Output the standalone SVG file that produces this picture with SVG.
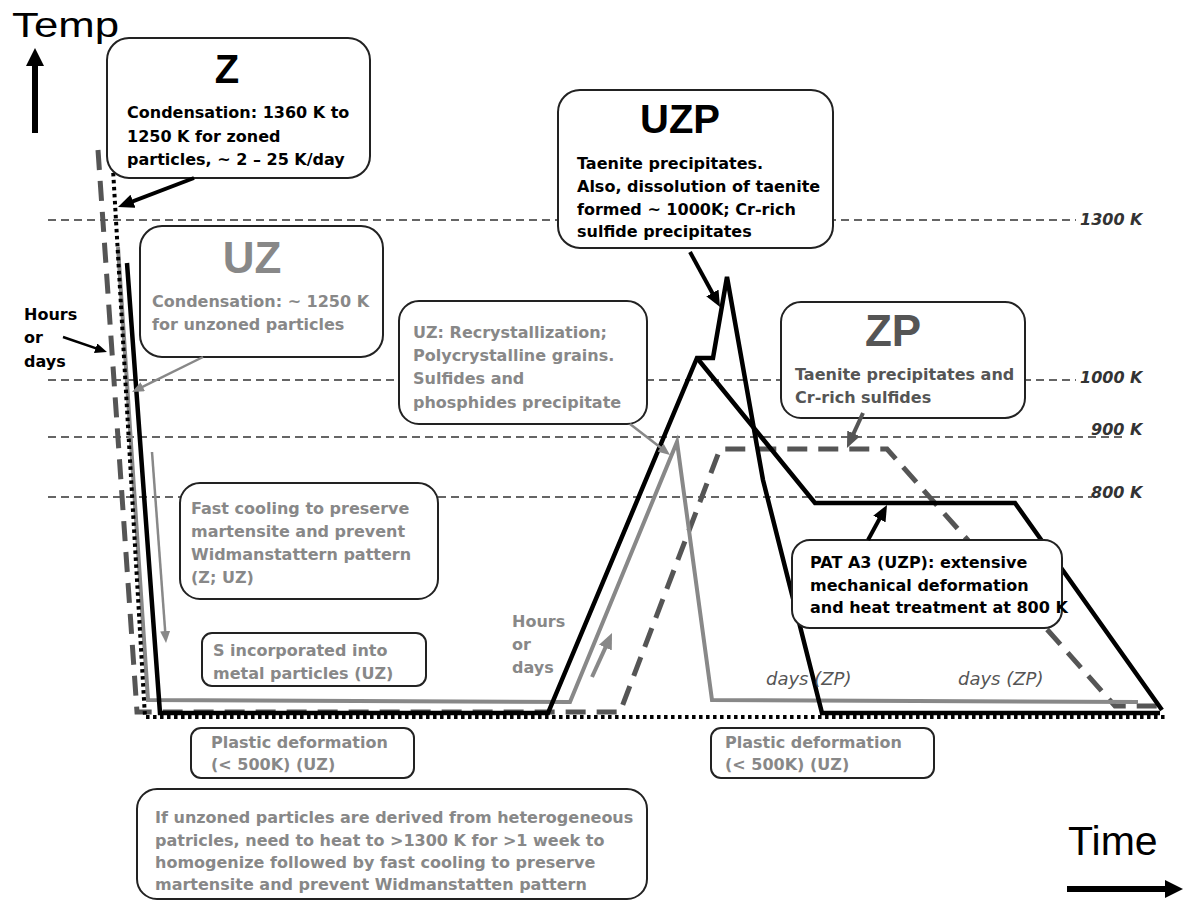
<svg xmlns="http://www.w3.org/2000/svg" width="1183" height="903" viewBox="0 0 1183 903">
<style>
.box{fill:#fff;stroke:#222;stroke-width:2}
.t{font-family:"DejaVu Sans","Liberation Sans",sans-serif;font-weight:bold;font-size:16px}
.ttl{font-family:"Liberation Sans",Arial,sans-serif;font-weight:bold;text-anchor:middle}
.blk{fill:#000}.gry{fill:#888}.dg{fill:#555}
.lvl{stroke:#333;stroke-width:1.6;stroke-dasharray:8 5;fill:none}
.lab{font-family:"DejaVu Sans",sans-serif;font-style:italic;font-weight:bold;font-size:16px;fill:#333}
.days{font-family:"DejaVu Sans",sans-serif;font-style:italic;font-size:18px;fill:#555}
.cv{fill:none;stroke-linejoin:miter}
</style>
<defs>
<marker id="ab" viewBox="0 0 16 14" markerWidth="16" markerHeight="14" refX="8" refY="7" orient="auto" markerUnits="userSpaceOnUse"><path d="M0,0 L16,7 L0,14 z" fill="#000"/></marker>
<marker id="abs" viewBox="0 0 12 10" markerWidth="12" markerHeight="10" refX="6" refY="5" orient="auto" markerUnits="userSpaceOnUse"><path d="M0,0 L12,5 L0,10 z" fill="#000"/></marker>
<marker id="ag" viewBox="0 0 12 10" markerWidth="12" markerHeight="10" refX="6" refY="5" orient="auto" markerUnits="userSpaceOnUse"><path d="M0,0 L12,5 L0,10 z" fill="#888"/></marker>
<marker id="agb" viewBox="0 0 16 14" markerWidth="16" markerHeight="14" refX="8" refY="7" orient="auto" markerUnits="userSpaceOnUse"><path d="M0,0 L16,7 L0,14 z" fill="#888"/></marker>
<marker id="ad" viewBox="0 0 16 14" markerWidth="16" markerHeight="14" refX="8" refY="7" orient="auto" markerUnits="userSpaceOnUse"><path d="M0,0 L16,7 L0,14 z" fill="#555"/></marker>
</defs>
<rect width="1183" height="903" fill="#fff"/>

<g id="axes">
<text x="12" y="37" font-family="Liberation Sans, Arial, sans-serif" font-size="35" textLength="107" lengthAdjust="spacingAndGlyphs" fill="#000">Temp</text>
<line x1="35" y1="133" x2="35" y2="62" stroke="#000" stroke-width="6"/>
<polygon points="26,66 35,48 44,66" fill="#000"/>
<text x="1068" y="855" font-family="Liberation Sans, Arial, sans-serif" font-size="41" fill="#000">Time</text>
<line x1="1067" y1="889" x2="1168" y2="889" stroke="#000" stroke-width="6"/>
<polygon points="1165,880 1183,889 1165,898" fill="#000"/>
</g>

<g id="levels">
<line class="lvl" x1="48" y1="220" x2="1076" y2="220"/>
<line class="lvl" x1="48" y1="380" x2="1076" y2="380"/>
<line class="lvl" x1="48" y1="437" x2="1122" y2="437"/>
<line class="lvl" x1="48" y1="497" x2="1092" y2="497"/>
<text class="lab" x="1080" y="225">1300 K</text>
<text class="lab" x="1080" y="383">1000 K</text>
<text class="lab" x="1091" y="435">900 K</text>
<text class="lab" x="1091" y="498">800 K</text>
</g>

<g id="curves">
<path class="cv" d="M98,150 L137,712 L620,712 L720,449 L887,449 L1115,706 L1160,706" stroke="#555" stroke-width="5" stroke-dasharray="20 11"/>
<path class="cv" d="M118,247 L148,700 L570,702 L677,442 L712,700 L1138,702" stroke="#888" stroke-width="4"/>
<path class="cv" d="M127,263 L160,713 L548,713 L697,358 L713,358 L727,277 L763,480 L822,713 L1160,713" stroke="#000" stroke-width="4.5"/>
<path class="cv" d="M697,358 L815,503 L1015,503 L1162,710" stroke="#000" stroke-width="4.5"/>
<path class="cv" d="M112,152 L145,717 L1165,717" stroke="#000" stroke-width="4" stroke-dasharray="3.5 3.5"/>
</g>

<g id="node-z">
<rect class="box" x="107" y="38" width="263" height="140" rx="22"/>
<text class="ttl blk" x="227" y="83" font-size="40">Z</text>
<text class="t blk" x="127" y="118">Condensation: 1360 K to</text>
<text class="t blk" x="127" y="142">1250 K for zoned</text>
<text class="t blk" x="127" y="165">particles, ~ 2 – 25 K/day</text>
</g>

<g id="node-uz">
<rect class="box" x="140" y="226" width="243" height="131" rx="22"/>
<text class="ttl gry" x="252" y="273" font-size="44">UZ</text>
<text class="t gry" x="152" y="307">Condensation: ~ 1250 K</text>
<text class="t gry" x="152" y="330">for unzoned particles</text>
</g>

<g id="node-hours-left">
<text class="t blk" x="24" y="320">Hours</text>
<text class="t blk" x="24" y="343">or</text>
<text class="t blk" x="24" y="367">days</text>
</g>

<g id="node-uzp">
<rect class="box" x="558" y="90" width="275" height="158" rx="22"/>
<text class="ttl blk" x="680" y="133" font-size="40">UZP</text>
<text class="t blk" x="577" y="169">Taenite precipitates.</text>
<text class="t blk" x="577" y="192">Also, dissolution of taenite</text>
<text class="t blk" x="577" y="215">formed ~ 1000K; Cr-rich</text>
<text class="t blk" x="577" y="237">sulfide precipitates</text>
</g>

<g id="node-recryst">
<rect class="box" x="399" y="301" width="248" height="123" rx="20"/>
<text class="t gry" x="413" y="338">UZ: Recrystallization;</text>
<text class="t gry" x="413" y="361">Polycrystalline grains.</text>
<text class="t gry" x="413" y="384">Sulfides and</text>
<text class="t gry" x="413" y="408">phosphides precipitate</text>
</g>

<g id="node-zp">
<rect class="box" x="781" y="302" width="244" height="116" rx="20"/>
<text class="ttl dg" x="893" y="346" font-size="44">ZP</text>
<text class="t dg" x="795" y="380">Taenite precipitates and</text>
<text class="t dg" x="795" y="403">Cr-rich sulfides</text>
</g>

<g id="node-fastcool">
<rect class="box" x="180" y="483" width="258" height="116" rx="20"/>
<text class="t gry" x="191" y="514">Fast cooling to preserve</text>
<text class="t gry" x="191" y="537">martensite and prevent</text>
<text class="t gry" x="191" y="560">Widmanstattern pattern</text>
<text class="t gry" x="191" y="583">(Z; UZ)</text>
</g>

<g id="node-s">
<rect class="box" x="202" y="633" width="224" height="53" rx="10"/>
<text class="t gry" x="213" y="656">S incorporated into</text>
<text class="t gry" x="213" y="679">metal particles (UZ)</text>
</g>

<g id="node-hours-mid">
<text class="t gry" x="512" y="627">Hours</text>
<text class="t gry" x="512" y="650">or</text>
<text class="t gry" x="512" y="673">days</text>
</g>

<g id="node-pat">
<rect class="box" x="792" y="540" width="270" height="88" rx="18"/>
<text class="t blk" x="810" y="568">PAT A3 (UZP): extensive</text>
<text class="t blk" x="810" y="591">mechanical deformation</text>
<text class="t blk" x="810" y="613">and heat treatment at 800 K</text>
</g>

<g id="node-days">
<text class="days" x="766" y="685">days (ZP)</text>
<text class="days" x="958" y="685">days (ZP)</text>
</g>

<g id="node-plastic1">
<rect class="box" x="191" y="728" width="223" height="50" rx="10"/>
<text class="t gry" x="211" y="748">Plastic deformation</text>
<text class="t gry" x="211" y="770">(&lt; 500K) (UZ)</text>
</g>

<g id="node-plastic2">
<rect class="box" x="711" y="728" width="223" height="50" rx="10"/>
<text class="t gry" x="725" y="748">Plastic deformation</text>
<text class="t gry" x="725" y="770">(&lt; 500K) (UZ)</text>
</g>

<g id="node-bottom">
<rect class="box" x="137" y="789" width="510" height="110" rx="20"/>
<text class="t gry" x="155" y="823">If unzoned particles are derived from heterogeneous</text>
<text class="t gry" x="155" y="846">patricles, need to heat to &gt;1300 K for &gt;1 week to</text>
<text class="t gry" x="155" y="868">homogenize followed by fast cooling to preserve</text>
<text class="t gry" x="155" y="890">martensite and prevent Widmanstatten pattern</text>
</g>

<g id="connectors" fill="none">
<line x1="194" y1="178" x2="125.5" y2="204.1" stroke="#000" stroke-width="4" marker-end="url(#ab)"/>
<line x1="690" y1="252" x2="716.2" y2="300" stroke="#000" stroke-width="4" marker-end="url(#ab)"/>
<line x1="868" y1="540" x2="883.2" y2="512" stroke="#000" stroke-width="4" marker-end="url(#ab)"/>
<line x1="863" y1="413" x2="850.3" y2="440.7" stroke="#555" stroke-width="4" marker-end="url(#ad)"/>
<line x1="63" y1="337" x2="101.3" y2="350.1" stroke="#000" stroke-width="2.5" marker-end="url(#abs)"/>
<line x1="203" y1="357" x2="137.4" y2="389.3" stroke="#888" stroke-width="2.5" marker-end="url(#ag)"/>
<line x1="630" y1="424" x2="665.3" y2="451.3" stroke="#888" stroke-width="2.5" marker-end="url(#ag)"/>
<line x1="152" y1="452" x2="165.6" y2="637" stroke="#888" stroke-width="2.5" marker-end="url(#ag)"/>
<line x1="592" y1="677" x2="608.7" y2="640.3" stroke="#888" stroke-width="4" marker-end="url(#agb)"/>
</g>
</svg>
